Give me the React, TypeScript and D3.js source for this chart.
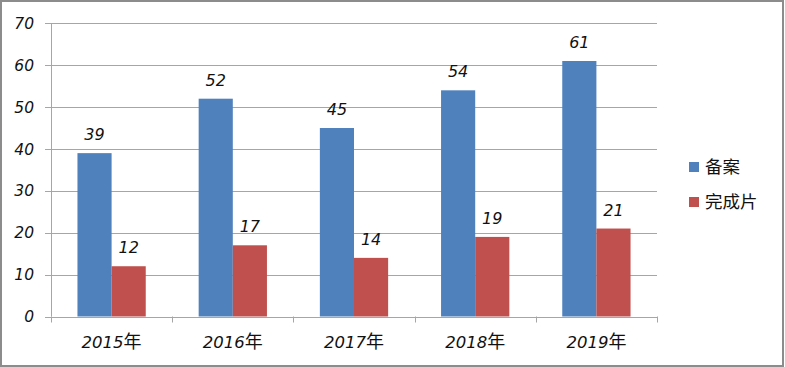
import React from "react";
import * as d3 from "d3";

const categories = ["2015年", "2016年", "2017年", "2018年", "2019年"];
const seriesNames = ["备案", "完成片"];
const filed = [39, 52, 45, 54, 61];
const finished = [12, 17, 14, 19, 21];
const yTicks = [0, 10, 20, 30, 40, 50, 60, 70];
const colors = ["#4F81BD", "#C0504D"];

const W = 785;
const H = 367;
const left = 51;
const right = 657;
const top = 23.3;
const bottom = 316.5;
const font = "'DejaVu Sans', 'Noto Sans CJK SC', sans-serif";

export default function App() {
  const x = d3.scaleBand<string>().domain(categories).range([left, right]).paddingInner(0).paddingOuter(0);
  const y = d3.scaleLinear().domain([0, 70]).range([bottom, top]);
  const bw = x.bandwidth();
  const barW = bw / 3.55;
  const series = [filed, finished];
  return (
    <svg width={W} height={H} style={{ position: "absolute", left: 0, top: 0 }}>
      <rect x={1} y={1} width={W - 3} height={H - 2} fill="#fff" stroke="#8c8c8c" strokeWidth={2} />
      {yTicks.map((t) => (
        <g key={t}>
          <line x1={left - 6} x2={right} y1={Math.round(y(t)) + 0.5} y2={Math.round(y(t)) + 0.5} stroke="#a6a6a6" strokeWidth={1} />
          <text x={34} y={y(t)} dy="0.36em" textAnchor="end" fontFamily={font} fontSize={15.5} fontStyle="italic" fill="#111">{t}</text>
        </g>
      ))}
      <line x1={left + 0.5} x2={left + 0.5} y1={top} y2={bottom} stroke="#a6a6a6" />
      {categories.map((c, i) => (
        <line key={"tk" + i} x1={Math.round(x(c)! + bw) + 0.5} x2={Math.round(x(c)! + bw) + 0.5} y1={bottom} y2={bottom + 6} stroke="#a6a6a6" />
      ))}
      <line x1={left + 0.5} x2={left + 0.5} y1={bottom} y2={bottom + 6} stroke="#a6a6a6" />
      {categories.map((c, i) => {
        const cx = x(c)! + bw / 2;
        const digits = c.slice(0, -1);
        const suffix = c.slice(-1);
        return (
          <g key={c}>
            {series.map((s, k) => {
              const bx = cx - barW + k * barW;
              return (
                <g key={k}>
                  <rect x={bx} y={y(s[i])} width={barW} height={y(0) - y(s[i])} fill={colors[k]} />
                  <text x={bx + barW / 2} y={y(s[i]) - 13} textAnchor="middle" fontFamily={font} fontSize={16} fontStyle="italic" fill="#111">{s[i]}</text>
                </g>
              );
            })}
            <text x={cx} y={348} textAnchor="middle" fontFamily={font} fontSize={16.5} fontStyle="italic" fill="#111">
              {digits}
              <tspan fontSize={18} fontStyle="normal">{suffix}</tspan>
            </text>
          </g>
        );
      })}
      {seriesNames.map((n, k) => (
        <g key={n}>
          <rect x={689} y={162 + k * 35} width={10} height={10} fill={colors[k]} />
          <text x={705} y={167 + k * 35} dy="0.36em" fontFamily={font} fontSize={17.5} fill="#111">{n}</text>
        </g>
      ))}
    </svg>
  );
}
